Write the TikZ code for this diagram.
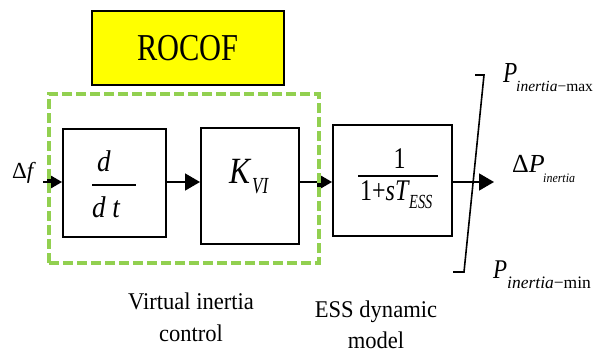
\documentclass[tikz,border=0pt]{standalone}
\usepackage{fontspec}
\usepackage{graphicx}
\setmainfont{Liberation Serif}
\usetikzlibrary{arrows.meta}
\definecolor{vigreen}{RGB}{146,208,80}
\definecolor{rocofyellow}{RGB}{255,255,0}
\newcommand{\fsz}[1]{\fontsize{#1}{#1}\selectfont}
\newcommand{\cnd}[2]{\scalebox{#1}[1]{#2}}

\begin{document}
\begin{tikzpicture}[x=1pt,y=-1pt,
  blk/.style={draw=black,line width=2pt,inner sep=0pt},
  sig/.style={line width=1.6pt,-{Triangle[length=15pt,width=17pt]}},
  lbl/.style={inner sep=0pt,anchor=base west},
  mid/.style={inner sep=0pt,anchor=base},
  captext/.style={inner sep=0pt,anchor=base,font=\fsz{24}}
]
\useasboundingbox (0,0) rectangle (597,356);

% ROCOF tag
\node[draw=black,line width=2.8pt,fill=rocofyellow,minimum width=192pt,
      minimum height=74pt,inner sep=0pt] (rocof) at (188,48)
      {\fsz{38}\cnd{0.8}{ROCOF}};

% blocks
\node[blk,minimum width=103pt,minimum height=108pt] (ddt) at (114.5,183) {};
\node[blk,minimum width=98pt,minimum height=116pt] (kvi) at (250,186) {};
\node[blk,minimum width=119pt,minimum height=111pt] (ess) at (392.5,180.5) {};

% derivative block contents
\node[mid] (ddtnum) at (104,171) {\fsz{30}\cnd{0.9}{\textit{d}}};
\draw[line width=1.3pt] (92,185) -- (136,185);
\node[lbl] (ddtden) at (92,217) {\fsz{30}\cnd{0.9}{\textit{d t}}};

% gain block contents
\node[lbl] (kvik) at (229,183) {\fsz{37}\cnd{0.85}{\textit{K}}};
\node[lbl] (kvisub) at (252,193) {\fsz{23}\cnd{0.74}{\textit{VI}}};

% storage dynamics block contents
\node[mid] (essnum) at (399.5,168) {\fsz{30}\cnd{0.8}{1}};
\draw[line width=1.3pt] (358,176) -- (438,176);
\node[lbl] (essden) at (360,200) {\fsz{30}\cnd{0.8}{1+\textit{sT}}};
\node[lbl] (esssub) at (409,208) {\fsz{20}\cnd{0.72}{\textit{ESS}}};

% signal path
\coordinate (row) at (0,182);
\coordinate (in) at (43,182);
\coordinate (out) at (494,182);
\node[lbl] (df) at (12,178) {\fsz{23}Δ\textit{f}};
\draw[sig] (in) -- (ddt.west |- row);
\draw[sig] (ddt.east |- row) -- (kvi.west |- row);
\draw[sig] (kvi.east |- row) -- (ess.west |- row);
\draw[sig] (ess.east |- row) -- (out);

% saturation limiter
\coordinate (satA) at (475,75);
\coordinate (satB) at (484,75);
\coordinate (satC) at (464,272);
\coordinate (satD) at (453,272);
\draw[line width=1.6pt] (satA) -- (satB) -- (satC) -- (satD);

% limiter labels
\node[lbl] (pmaxP) at (503,82) {\fsz{29}\cnd{0.8}{\textit{P}}};
\node[lbl] (pmaxs) at (516,91) {\fsz{15.5}\textit{inertia}−max};
\node[lbl] (dpP) at (512,172) {\fsz{26}Δ\textit{P}};
\node[lbl] (dps) at (543,182) {\fsz{13}\cnd{0.92}{\textit{inertia}}};
\node[lbl] (pminP) at (493,278) {\fsz{27}\cnd{0.85}{\textit{P}}};
\node[lbl] (pmins) at (507,288) {\fsz{17.5}\textit{inertia}−min};

% virtual inertia group, drawn over the input arrow
\node[draw=vigreen,line width=3.5pt,dash pattern=on 10pt off 4pt,
      minimum width=270pt,minimum height=169pt,inner sep=0pt] (vigroup) at (184,178.5) {};

% captions
\node[captext] (vicapa) at (191,309) {\cnd{0.94}{Virtual inertia}};
\node[captext] (vicapb) at (191,341) {\cnd{0.94}{control}};
\node[captext] (esscapa) at (376,317) {\cnd{0.94}{ESS dynamic}};
\node[captext] (esscapb) at (376,348) {\cnd{0.94}{model}};
\end{tikzpicture}
\end{document}
